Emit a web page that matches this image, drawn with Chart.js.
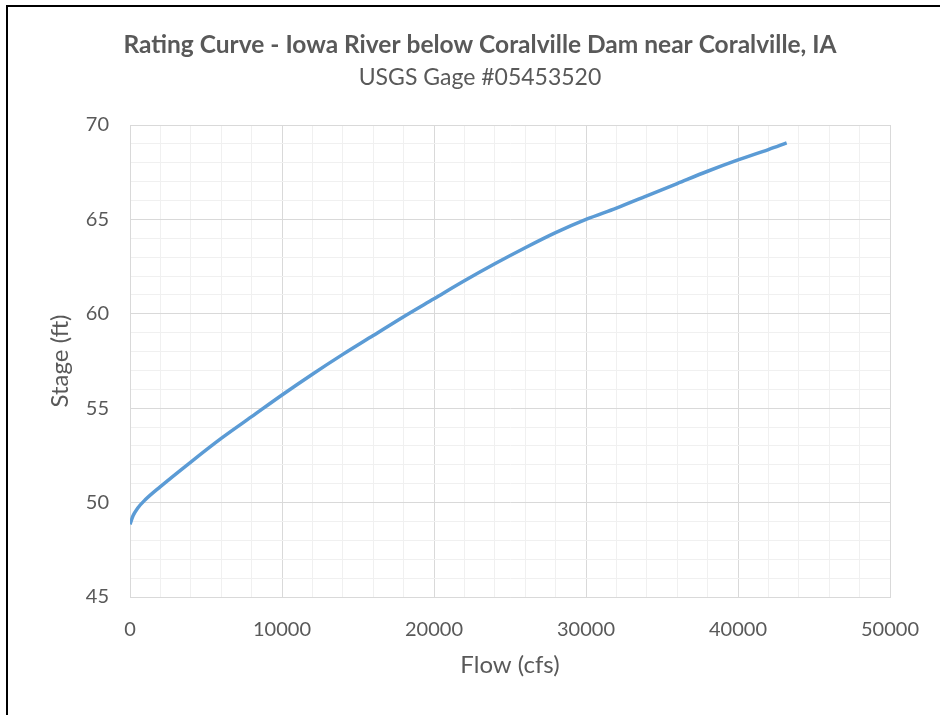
<!DOCTYPE html>
<html>
<head>
<meta charset="utf-8">
<title>Rating Curve</title>
<script src="https://cdn.jsdelivr.net/npm/chart.js@4.4.1/dist/chart.umd.min.js"></script>
<style>
    body { margin: 0; background: #fff; }
    #wrap { position: relative; width: 940px; height: 715px; overflow: hidden; }
    #frame {
        position: absolute; left: 6px; top: 5px; width: 960px; height: 730px;
        border-top: 2px solid #000; border-left: 2px solid #000;
        pointer-events: none;
    }
</style>
</head>
<body>
<div id="wrap">
    <canvas id="ratingChart" width="940" height="715"></canvas>
    <div id="frame"></div>
</div>
<script>
// Flow (cfs) and stage (ft)
const flow = [0, 200, 500, 1000, 2000, 4000, 6000, 8000, 10000, 12000, 14000, 16000, 18000,
    20000, 22000, 24000, 26000, 28000, 30000, 32000, 34000, 36000, 38000, 40000, 42000, 43200];
const stage = [48.85, 49.3, 49.7, 50.15, 50.85, 52.15, 53.4, 54.55, 55.7, 56.8, 57.85, 58.85, 59.85,
    60.8, 61.75, 62.65, 63.5, 64.3, 65.0, 65.6, 66.25, 66.9, 67.55, 68.15, 68.7, 69.05];

// Labelled ticks
const xTickLabels = [0, 10000, 20000, 30000, 40000, 50000];
const yTickLabels = [45, 50, 55, 60, 65, 70];

const textColor = '#595959';
const majorGrid = '#d9d9d9';
const minorGrid = '#f0f0f0';

const points = flow.map((q, i) => ({ x: q, y: stage[i] }));

const ctx = document.getElementById('ratingChart').getContext('2d');

new Chart(ctx, {
    type: 'line',
    data: {
        datasets: [{
            label: 'Rating',
            data: points,
            borderColor: '#5b9bd5',
            borderWidth: 3.5,
            pointRadius: 0,
            cubicInterpolationMode: 'monotone',
            fill: false
        }]
    },
    options: {
        responsive: false,
        animation: false,
        layout: {
            // left/right padding also centres the titles at x = 480
            padding: { left: 69, right: 49, top: 0, bottom: 0 }
        },
        plugins: {
            legend: { display: false },
            tooltip: { enabled: false },
            title: {
                display: true,
                text: 'Rating Curve - Iowa River below Coralville Dam near Coralville, IA',
                color: textColor,
                font: { family: 'Lato', size: 24.5, weight: 'bold' },
                padding: { top: 30, bottom: 0 }
            },
            subtitle: {
                display: true,
                text: 'USGS Gage #05453520',
                color: textColor,
                font: { family: 'Lato', size: 23 },
                padding: { top: 4, bottom: 34 }
            }
        },
        scales: {
            x: {
                type: 'linear',
                min: 0,
                max: 50000,
                afterFit: function(scale) { scale.height = 118; },
                border: { color: majorGrid },
                grid: {
                    drawTicks: false,
                    color: c => xTickLabels.includes(c.tick.value) ? majorGrid : minorGrid
                },
                ticks: {
                    stepSize: 2000,
                    autoSkip: false,
                    maxRotation: 0,
                    padding: 21,
                    color: textColor,
                    font: { family: 'Lato', size: 20 },
                    callback: v => xTickLabels.includes(v) ? String(v) : ''
                },
                title: {
                    display: true,
                    text: 'Flow (cfs)',
                    color: textColor,
                    font: { family: 'Lato', size: 24 },
                    padding: { top: 0, bottom: 35 }
                }
            },
            y: {
                type: 'linear',
                min: 45,
                max: 70,
                afterFit: function(scale) { scale.width = 61; },
                border: { color: majorGrid },
                grid: {
                    drawTicks: false,
                    color: c => yTickLabels.includes(c.tick.value) ? majorGrid : minorGrid
                },
                ticks: {
                    stepSize: 1,
                    autoSkip: false,
                    padding: 21,
                    color: textColor,
                    font: { family: 'Lato', size: 20 },
                    callback: v => yTickLabels.includes(v) ? String(v) : ''
                },
                title: {
                    display: true,
                    text: 'Stage (ft)',
                    color: textColor,
                    font: { family: 'Lato', size: 24 },
                    padding: { top: -23, bottom: 0 }
                }
            }
        }
    }
});
</script>
</body>
</html>
